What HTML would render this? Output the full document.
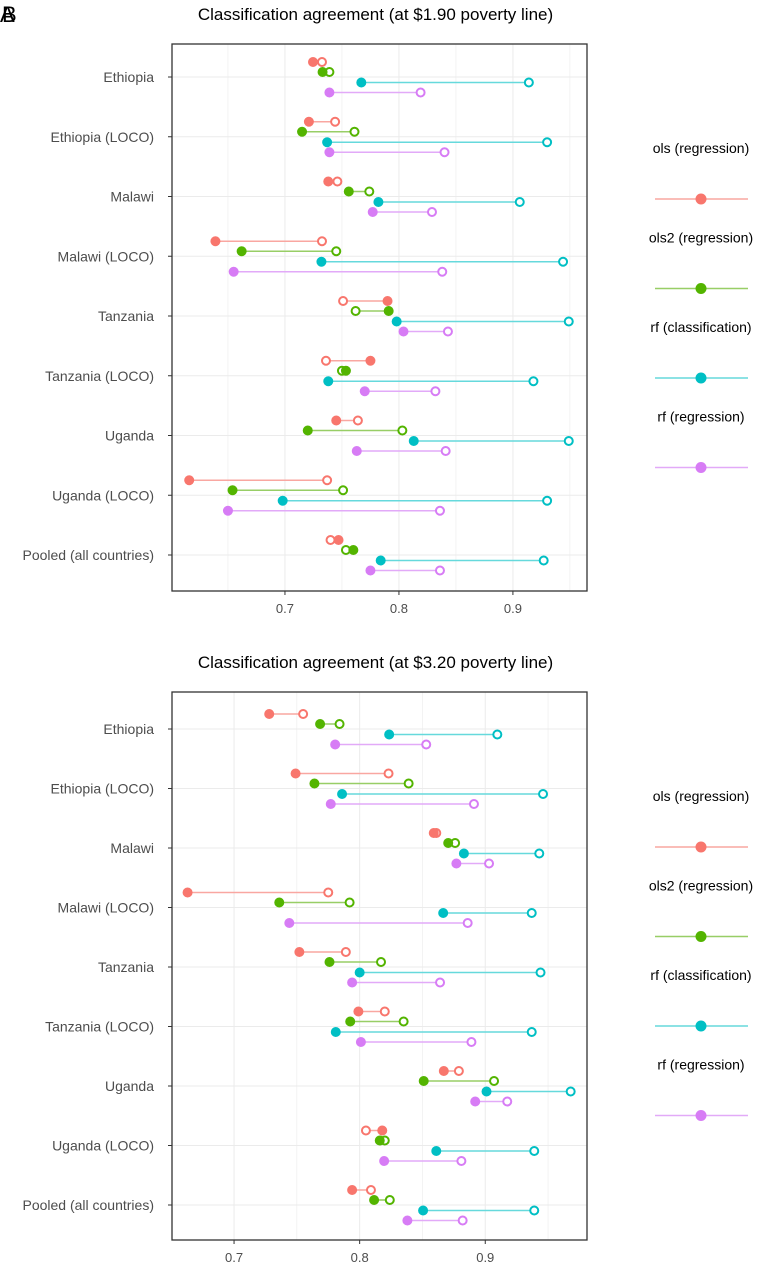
<!DOCTYPE html>
<html><head><meta charset="utf-8">
<style>
body{margin:0;background:#fff;font-family:"Liberation Sans",sans-serif;}
svg text{font-family:"Liberation Sans",sans-serif;}
</style></head>
<body>
<svg id="chart" width="764" height="1273" xmlns="http://www.w3.org/2000/svg">
<text x="0" y="22" font-size="22">A</text>
<text x="2" y="22" font-size="22">B</text>
</svg>
<script>
const categories=["Ethiopia","Ethiopia (LOCO)","Malawi","Malawi (LOCO)","Tanzania","Tanzania (LOCO)","Uganda","Uganda (LOCO)","Pooled (all countries)"];
const seriesNames=["ols (regression)","ols2 (regression)","rf (classification)","rf (regression)"];
const tickLabels=["0.7","0.8","0.9"];
const tickValues=[0.7,0.8,0.9];
// Panel A ($1.90): filled and open values per series
const a_ols_filled=[0.7246,0.721,0.738,0.639,0.790,0.775,0.745,0.616,0.747];
const a_ols_open=[0.7325,0.744,0.746,0.7325,0.751,0.736,0.764,0.737,0.740];
const a_ols2_filled=[0.733,0.715,0.756,0.662,0.791,0.7535,0.720,0.654,0.760];
const a_ols2_open=[0.739,0.761,0.774,0.745,0.762,0.750,0.803,0.751,0.7535];
const a_rfc_filled=[0.767,0.737,0.782,0.732,0.798,0.738,0.813,0.698,0.784];
const a_rfc_open=[0.914,0.930,0.906,0.944,0.949,0.918,0.949,0.930,0.927];
const a_rfr_filled=[0.739,0.739,0.777,0.655,0.804,0.770,0.763,0.650,0.775];
const a_rfr_open=[0.819,0.840,0.829,0.838,0.843,0.832,0.841,0.836,0.836];
// Panel B ($3.20)
const b_ols_filled=[0.728,0.749,0.859,0.663,0.752,0.799,0.867,0.818,0.794];
const b_ols_open=[0.755,0.823,0.861,0.775,0.789,0.820,0.879,0.805,0.809];
const b_ols2_filled=[0.7685,0.764,0.8705,0.736,0.776,0.7925,0.851,0.816,0.8115];
const b_ols2_open=[0.784,0.839,0.876,0.792,0.817,0.835,0.907,0.820,0.824];
const b_rfc_filled=[0.8235,0.786,0.883,0.8665,0.800,0.781,0.901,0.861,0.8505];
const b_rfc_open=[0.9096,0.946,0.943,0.937,0.944,0.937,0.968,0.939,0.939];
const b_rfr_filled=[0.7805,0.777,0.877,0.744,0.794,0.801,0.892,0.8195,0.838];
const b_rfr_open=[0.853,0.891,0.903,0.886,0.864,0.889,0.9175,0.881,0.882];

const colors=["#F8766D","#53B400","#00BFC4","#D77CF5"];
const lineColors=["#F9A7A1","#98CE66","#66D9DC","#E2AAF8"];
const svg=document.getElementById('chart');
const NS="http://www.w3.org/2000/svg";
function mk(tag,attrs,parent){const e=document.createElementNS(NS,tag);for(const k in attrs)e.setAttribute(k,attrs[k]);(parent||svg).appendChild(e);return e;}

function panel(cfg){
  const {top,bottom,left,right,x0,x1,title,filled,open,prefix,firstY,lastY}=cfg;
  const x=v=>left+(v-x0)/(x1-x0)*(right-left);
  const step=(lastY-firstY)/(categories.length-1);
  const y=i=>firstY+step*i;
  const g=mk('g',{});
  
  
  const t=mk('text',{x:(left+right)/2-4,y:top-24,'font-size':17,'text-anchor':'middle',fill:'#000'},g);
  t.textContent=title;
  
  
  for(let v=Math.ceil(x0*20)/20;v<=x1;v+=0.05){
    const isMajor=Math.abs(v*10-Math.round(v*10))<1e-6;
    mk('line',{x1:x(v),x2:x(v),y1:top,y2:bottom,stroke:'#ebebeb','stroke-width':isMajor?1:0.6},g);
  }
  categories.forEach((c,i)=>{
    mk('line',{x1:left,x2:right,y1:y(i),y2:y(i),stroke:'#ebebeb','stroke-width':1},g);
    const lab=mk('text',{x:left-18,y:y(i)+5,'font-size':14,'text-anchor':'end',fill:'#4d4d4d'},g);
    lab.textContent=c;
    
    
    mk('line',{x1:left-4,x2:left,y1:y(i),y2:y(i),stroke:'#333'},g);
  });
  tickValues.forEach((v,k)=>{
    mk('line',{x1:x(v),x2:x(v),y1:bottom,y2:bottom+4,stroke:'#333'},g);
    const tl=mk('text',{x:x(v),y:bottom+22,'font-size':13,'text-anchor':'middle',fill:'#4d4d4d'},g);
    tl.textContent=tickLabels[k];
    
    
  });
  const offs=[-15,-5,5.5,15.5];
  for(let s=0;s<4;s++){
    categories.forEach((c,i)=>{
      const yy=y(i)+offs[s];
      const ln=mk('line',{x1:x(filled[s][i]),x2:x(open[s][i]),y1:yy,y2:yy,stroke:lineColors[s],'stroke-width':1.6},g);
      
      
      const o=mk('circle',{cx:x(open[s][i]),cy:yy,r:4,fill:'#fff',stroke:colors[s],'stroke-width':2},g);
      
      
      const f=mk('circle',{cx:x(filled[s][i]),cy:yy,r:5,fill:colors[s]},g);
      
      
    });
  }
  mk('rect',{x:left,y:top,width:right-left,height:bottom-top,fill:'none',stroke:'#333','stroke-width':1.3},g);
  seriesNames.forEach((n,s)=>{
    const ly=top+155+s*89.5;
    const lt=mk('text',{x:701,y:ly-46,'font-size':14,'text-anchor':'middle',fill:'#000'},g);
    lt.textContent=n;
    
    
    mk('line',{x1:655,x2:748,y1:ly,y2:ly,stroke:lineColors[s],'stroke-width':1.6},g);
    const lc=mk('circle',{cx:701,cy:ly,r:5.5,fill:colors[s]},g);
    
    
  });
}
panel({top:44,bottom:591,left:172,right:587,x0:0.6009,x1:0.965,firstY:77,lastY:555,title:"Classification agreement (at $1.90 poverty line)",
  filled:[a_ols_filled,a_ols2_filled,a_rfc_filled,a_rfr_filled],open:[a_ols_open,a_ols2_open,a_rfc_open,a_rfr_open],prefix:'panel-a'});
panel({top:692,bottom:1240,left:172,right:587,x0:0.6506,x1:0.981,firstY:729,lastY:1205,title:"Classification agreement (at $3.20 poverty line)",
  filled:[b_ols_filled,b_ols2_filled,b_rfc_filled,b_rfr_filled],open:[b_ols_open,b_ols2_open,b_rfc_open,b_rfr_open],prefix:'panel-b'});
</script>
</body></html>
